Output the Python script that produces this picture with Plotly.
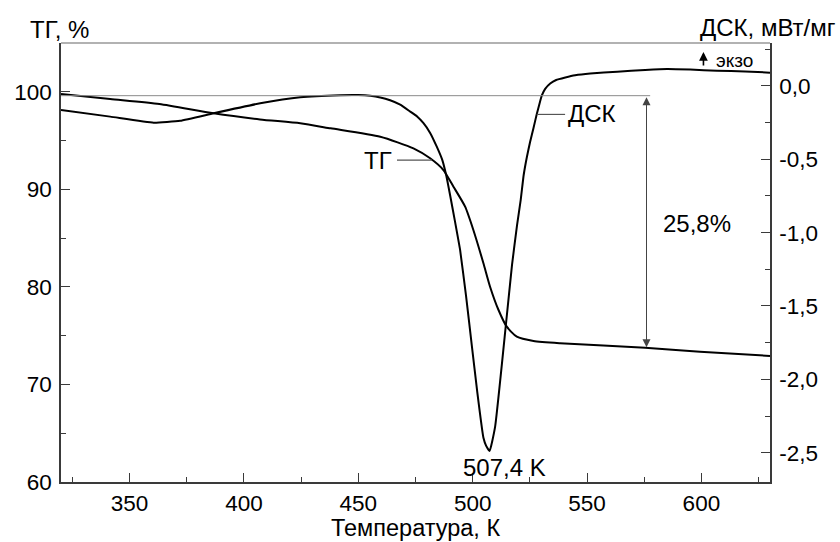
import plotly.graph_objects as go

# ---- data ----
T_TG = [320, 341.5, 363, 386.7, 407, 424.6, 437.9, 459.6, 474.1, 481.4, 487.2, 491.6, 496.7,
        500.3, 504.7, 507.6, 511.3, 514.9, 519.3, 526.6, 538.2, 575.4, 599.4, 630]
TG = [99.77, 99.26, 98.75, 97.79, 97.17, 96.77, 96.25, 95.39, 94.2, 93.18, 91.98, 90.27, 88.22,
      85.83, 82.42, 80.02, 77.63, 75.92, 74.89, 74.45, 74.22, 73.77, 73.36, 72.92]

T_DSC = [320, 341.5, 360.5, 372.1, 386.7, 407.1, 424.6, 442.1, 450.0, 455.2, 459.6, 463.9, 468.3,
         472.7, 475.7, 478.5, 481.4, 484.3, 486.7, 488.4, 490.2, 492.3, 494.5, 497.1, 499.6,
         502.0, 504.7, 505.9, 507.4, 509.8, 514.6, 517.2, 519.4, 521.0, 522.3, 523.7, 525.1,
         526.6, 528.0, 529.3, 530.2, 531.7, 533.9, 536.5, 540.5, 544.8, 551.4, 563.2, 575.4,
         585.0, 595.1, 606.9, 619.1, 630]
DSC = [-0.164, -0.209, -0.250, -0.237, -0.186, -0.118, -0.077, -0.063, -0.062, -0.067, -0.078,
       -0.097, -0.127, -0.175, -0.208, -0.254, -0.320, -0.414, -0.504, -0.607, -0.750, -0.927,
       -1.118, -1.431, -1.766, -2.086, -2.399, -2.454, -2.488, -2.324, -1.616, -1.220, -0.948,
       -0.777, -0.607, -0.484, -0.382, -0.286, -0.193, -0.116, -0.066, -0.020, 0.017, 0.041,
       0.058, 0.073, 0.085, 0.097, 0.109, 0.116, 0.112, 0.104, 0.099, 0.091]

x_ticks = [350, 400, 450, 500, 550, 600]
x_minor = [325, 375, 425, 475, 525, 575, 625]
tg_ticks = [60, 70, 80, 90, 100]
tg_minor = [65, 75, 85, 95, 105]
dsc_ticks = [-2.5, -2.0, -1.5, -1.0, -0.5, 0.0]
dsc_labels = ["-2,5", "-2,0", "-1,5", "-1,0", "-0,5", "0,0"]
dsc_minor = [-2.75, -2.25, -1.75, -1.25, -0.75, -0.25, 0.25]

mass_top = 99.6       # TG level before decomposition
mass_bottom = 73.8    # TG level after decomposition
mass_loss_T = 576     # position of the mass loss arrow
peak_T = 507.4

FONT = "Liberation Sans, Arial, sans-serif"
AX = "#3a3a3a"
TICKF = 22.5
TXTF = 24

fig = go.Figure()
fig.add_trace(go.Scatter(x=T_TG, y=TG, mode="lines", yaxis="y",
                         line=dict(color="black", width=2, shape="spline", smoothing=0.6),
                         showlegend=False, hoverinfo="skip"))
fig.add_trace(go.Scatter(x=T_DSC, y=DSC, mode="lines", yaxis="y2",
                         line=dict(color="black", width=2, shape="spline", smoothing=0.4),
                         showlegend=False, hoverinfo="skip"))

axis_common = dict(ticks="inside", ticklen=9, tickwidth=1.3, tickcolor=AX, showline=True,
                   linecolor=AX, linewidth=1.5, showgrid=False, zeroline=False,
                   tickfont=dict(size=TICKF))

fig.update_layout(
    width=840, height=542,
    margin=dict(l=61, r=70, t=43, b=60),
    paper_bgcolor="white", plot_bgcolor="white",
    font=dict(family=FONT, size=TXTF, color="black"),
    xaxis=dict(range=[320, 630], tickvals=x_ticks, ticklabelstandoff=0, **axis_common,
               minor=dict(tickvals=x_minor, ticks="inside", ticklen=5, tickcolor=AX, tickwidth=1.3)),
    yaxis=dict(range=[60, 105], tickvals=tg_ticks, ticklabelstandoff=3, **axis_common,
               minor=dict(tickvals=tg_minor, ticks="inside", ticklen=5, tickcolor=AX, tickwidth=1.3)),
    yaxis2=dict(range=[-2.70, 0.293], overlaying="y", side="right", tickvals=dsc_ticks,
                ticktext=dsc_labels, ticklabelstandoff=3, **axis_common,
                minor=dict(tickvals=dsc_minor, ticks="inside", ticklen=5, tickcolor=AX, tickwidth=1.3)),
)

# top frame line
fig.add_shape(type="line", xref="paper", yref="paper", x0=0, x1=1, y0=1, y1=1,
              line=dict(color="#999999", width=1.3))
# reference level line
fig.add_shape(type="line", xref="x", yref="y", x0=320, x1=mass_loss_T + 1.6, y0=mass_top, y1=mass_top,
              line=dict(color="#8a8a8a", width=1))
# mass loss double arrow
fig.add_annotation(x=mass_loss_T, y=mass_bottom, ax=mass_loss_T, ay=mass_top, xref="x", yref="y",
                   axref="x", ayref="y", text="", showarrow=True, arrowhead=2, startarrowhead=2,
                   arrowside="end+start", arrowsize=1.6, startarrowsize=1.6, arrowwidth=1,
                   arrowcolor="#444", font=dict(size=1))
fig.add_annotation(x=598, y=86.5, xref="x", yref="y", text="25,8%", showarrow=False)

# curve labels with leader lines
fig.add_shape(type="line", xref="x", yref="y", x0=466.9, x1=482.2, y0=93.0, y1=93.0,
              line=dict(color="#555", width=1.2))
fig.add_annotation(x=465.5, y=93.0, xref="x", yref="y", text="ТГ", showarrow=False,
                   xanchor="right")
fig.add_shape(type="line", xref="x", yref="y2", x0=528.0, x1=540.4, y0=-0.194, y1=-0.194,
              line=dict(color="#555", width=1.2))
fig.add_annotation(x=540.8, y=-0.19, xref="x", yref="y2", text="ДСК", showarrow=False,
                   xanchor="left")
fig.add_annotation(x=514.1, y=-2.6, xref="x", yref="y2", text="507,4 K", showarrow=False)

# exo marker
fig.add_annotation(x=600.9, y=0.232, xref="x", yref="y2", ax=0, ay=15, text="", showarrow=True,
                   arrowhead=2, arrowsize=1.1, arrowwidth=1.6, arrowcolor="black",
                   font=dict(size=1), standoff=0, startstandoff=0)
fig.add_annotation(x=605.5, y=0.177, xref="x", yref="y2", text="экзо", showarrow=False,
                   xanchor="left", font=dict(size=19))

# axis titles
fig.add_annotation(x=(28 - 60.7) / 709.3, y=(482 - 29) / 439, xref="paper", yref="paper",
                   text="ТГ, %", showarrow=False, xanchor="left", yanchor="middle")
fig.add_annotation(x=(838 - 60.7) / 709.3, y=(482 - 28) / 439, xref="paper", yref="paper",
                   text="ДСК, мВт/мг", showarrow=False, xanchor="right", yanchor="middle")
fig.add_annotation(x=0.5, y=(482 - 528) / 439, xref="paper", yref="paper",
                   text="Температура, К", showarrow=False, yanchor="middle", borderpad=0,
                   font=dict(size=23.5))

fig.write_html("out.html")
